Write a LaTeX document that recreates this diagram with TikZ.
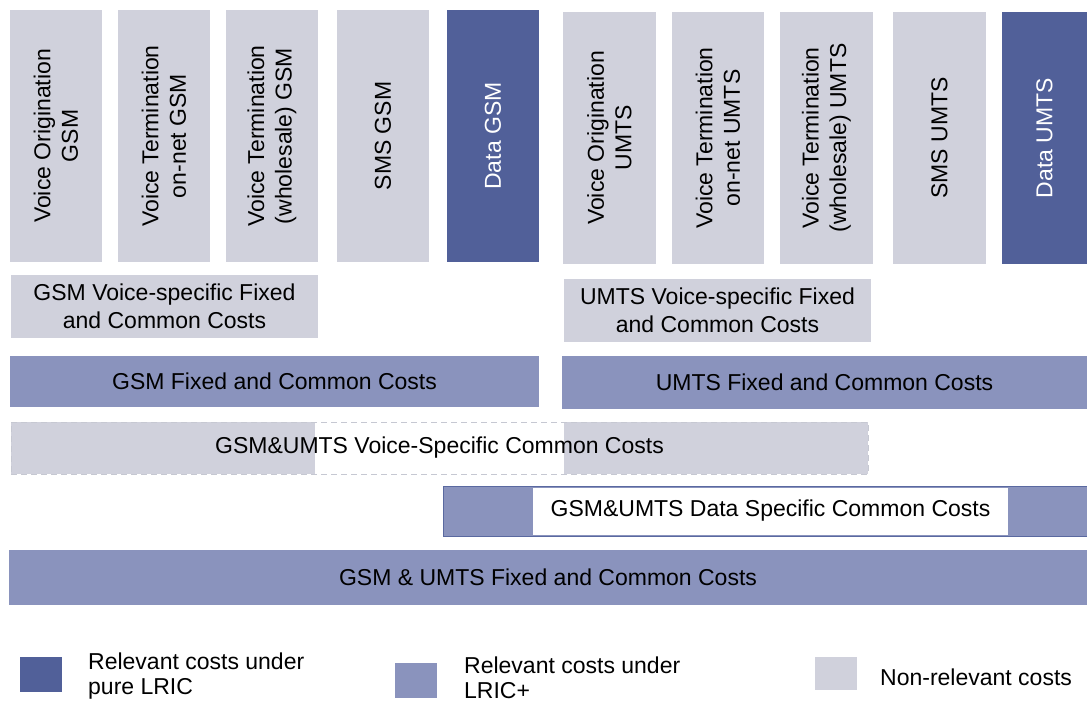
\documentclass[tikz,border=0pt]{standalone}
\usepackage{fontspec}
\setmainfont{Liberation Sans}
\definecolor{cdark}{RGB}{81,96,153}
\definecolor{cmed}{RGB}{138,147,189}
\definecolor{clight}{RGB}{208,209,220}
\definecolor{cborder}{RGB}{90,105,160}
\definecolor{cdash}{RGB}{198,200,210}
\tikzset{
  blk/.style={rectangle, inner sep=0pt, outer sep=0pt, draw=none},
  lightbox/.style={blk, fill=clight},
  medbox/.style={blk, fill=cmed},
  darkbox/.style={blk, fill=cdark},
  txt/.style={inner sep=0pt, align=center, font=\fontsize{23}{27.5}\selectfont},
  vtxt/.style={txt, rotate=90},
  legtxt/.style={inner sep=0pt, align=left, anchor=west, font=\fontsize{23}{25}\selectfont}
}
\begin{document}
\begin{tikzpicture}[x=1pt,y=-1pt]
\useasboundingbox (0,0) rectangle (1087,702);
% GSM columns
\node[lightbox, minimum width=92, minimum height=252] (c1) at (56,136) {};
\node[lightbox, minimum width=92, minimum height=252] (c2) at (164,136) {};
\node[lightbox, minimum width=92, minimum height=252] (c3) at (272,136) {};
\node[lightbox, minimum width=92, minimum height=252] (c4) at (383,136) {};
\node[darkbox, minimum width=92, minimum height=252] (c5) at (493,136) {};
% UMTS columns
\node[lightbox, minimum width=93, minimum height=252] (c6) at (609.5,138) {};
\node[lightbox, minimum width=92, minimum height=252] (c7) at (718,138) {};
\node[lightbox, minimum width=93, minimum height=252] (c8) at (826.5,138) {};
\node[lightbox, minimum width=93, minimum height=252] (c9) at (939.5,138) {};
\node[darkbox, minimum width=85, minimum height=252] (c10) at (1044.5,138) {};
\node[vtxt] (t1) at (c1.center) {Voice Origination\\GSM};
\node[vtxt] (t2) at (c2.center) {Voice Termination\\on-net GSM};
\node[vtxt] (t3) at (c3.center) {Voice Termination\\(wholesale) GSM};
\node[vtxt] (t4) at (c4.center) {SMS GSM};
\node[vtxt, text=white] (t5) at (c5.center) {Data GSM};
\node[vtxt] (t6) at (c6.center) {Voice Origination\\UMTS};
\node[vtxt] (t7) at (c7.center) {Voice Termination\\on-net UMTS};
\node[vtxt] (t8) at (c8.center) {Voice Termination\\(wholesale) UMTS};
\node[vtxt] (t9) at (c9.center) {SMS UMTS};
\node[vtxt, text=white] (t10) at (c10.center) {Data UMTS};
% voice-specific
\node[lightbox, minimum width=307, minimum height=63] (gv) at (164.5,306.5) {};
\node[txt] (gvt) at (gv.center) {GSM Voice-specific Fixed\\and Common Costs};
\node[lightbox, minimum width=307, minimum height=63] (uv) at (717.5,310.5) {};
\node[txt] (uvt) at (uv.center) {UMTS Voice-specific Fixed\\and Common Costs};
% fixed and common
\node[medbox, minimum width=529, minimum height=51] (gf) at (274.5,381.5) {};
\node[txt] (gft) at (gf.center) {GSM Fixed and Common Costs};
\node[medbox, minimum width=525, minimum height=53] (uf) at (824.5,382.5) {};
\node[txt] (uft) at (uf.center) {UMTS Fixed and Common Costs};
% voice-specific common (dashed)
\node[lightbox, minimum width=304, minimum height=52] (dl) at (163,448) {};
\node[lightbox, minimum width=304, minimum height=52] (dr) at (716,448) {};
\node[blk, draw=cdash, line width=1pt, dash pattern=on 6pt off 4pt, minimum width=857, minimum height=52] (dv) at (439.5,448) {};
\node[txt] (dvt) at (dv.center) {GSM\&UMTS Voice-Specific Common Costs};
% data specific common
\node[medbox, draw=cborder, line width=1pt, minimum width=650, minimum height=50] (dd) at (768,511) {};
\node[blk, fill=white, minimum width=475, minimum height=47] (dw) at (770.5,511) {};
\node[txt] (ddt) at (dw.center) {GSM\&UMTS Data Specific Common Costs};
% total
\node[medbox, minimum width=1078, minimum height=55] (tot) at (548,577.5) {};
\node[txt] (tott) at (tot.center) {GSM \& UMTS Fixed and Common Costs};
% legend
\node[darkbox, minimum width=42, minimum height=35] (l1) at (41,674.5) {};
\node[legtxt] (l1t) at (88,676) {Relevant costs under\\pure LRIC};
\node[medbox, minimum width=42, minimum height=35] (l2) at (416,680) {};
\node[legtxt] (l2t) at (464,678) {Relevant costs under\\LRIC+};
\node[lightbox, minimum width=42, minimum height=33] (l3) at (836,673.5) {};
\node[legtxt] (l3t) at (880,677) {Non-relevant costs};
\end{tikzpicture}
\end{document}
